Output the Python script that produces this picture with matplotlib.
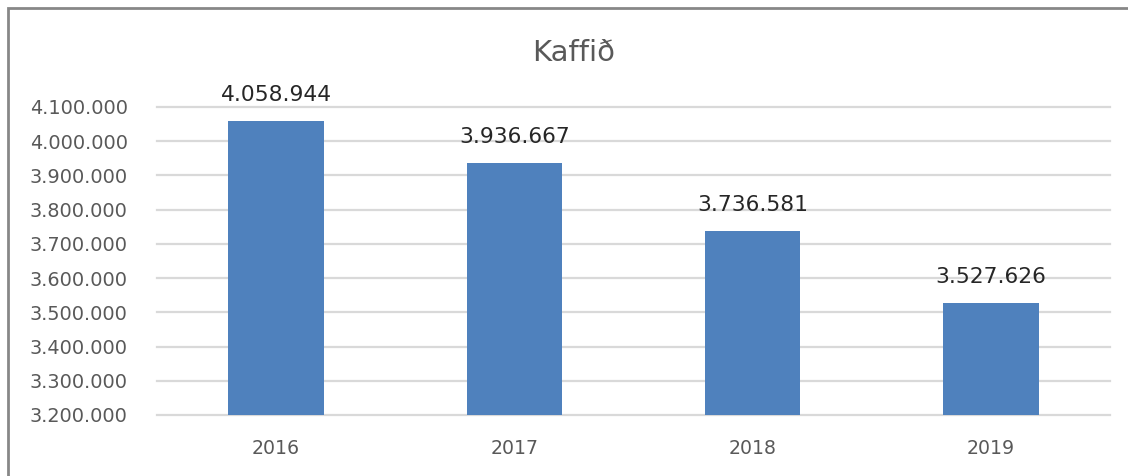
import matplotlib
matplotlib.use("Agg")
import matplotlib.pyplot as plt
from matplotlib.patches import Rectangle
from matplotlib.ticker import FuncFormatter, MultipleLocator

years = ["2016", "2017", "2018", "2019"]
values = [4058944, 3936667, 3736581, 3527626]
title = "Kaffið"

def fmt(v):
    return f"{int(round(v)):,}".replace(",", ".")

plt.rcParams['font.family'] = ['DejaVu Sans']

W, H = 1128, 476
fig = plt.figure(figsize=(W / 100, H / 100), dpi=100)
fig.patch.set_facecolor("white")

ax = fig.add_axes([157 / W, 1 - 415 / H, (1110 - 157) / W, (415 - 107) / H])
x = list(range(len(years)))
ax.bar(x, values, width=0.4, color="#4F81BD", zorder=3)
ax.set_xlim(-0.5, len(years) - 0.5)
ax.set_ylim(3200000, 4100000)
ax.yaxis.set_major_locator(MultipleLocator(100000))
ax.yaxis.set_major_formatter(FuncFormatter(lambda v, p: fmt(v)))
ax.set_xticks(x)
ax.set_xticklabels(years)
ax.grid(axis="y", color="#D9D9D9", linewidth=1.6, zorder=0)
for gl in ax.get_ygridlines():
    gl.set_clip_on(False)
for s in ax.spines.values():
    s.set_visible(False)
ax.tick_params(axis="both", length=0)
ax.tick_params(axis="y", pad=21, labelsize=13.9, labelcolor="#595959")
ax.tick_params(axis="x", pad=17, labelsize=13.6, labelcolor="#595959")

for xi, v in zip(x, values):
    ax.annotate(fmt(v), (xi, v), xytext=(0, 14.5), textcoords="offset points",
                ha="center", va="baseline", fontsize=15.7, color="#262626",
                annotation_clip=False)

fig.text(574 / W, 1 - 53 / H, title, ha="center", va="center",
         fontsize=21, color="#595959")

fig.patches.append(Rectangle((8 / W, -0.1), 2.0, 1 - 8 / H + 0.1,
                             transform=fig.transFigure, fill=False,
                             edgecolor="#878787", linewidth=2))

fig.savefig("out.png", dpi=100)
